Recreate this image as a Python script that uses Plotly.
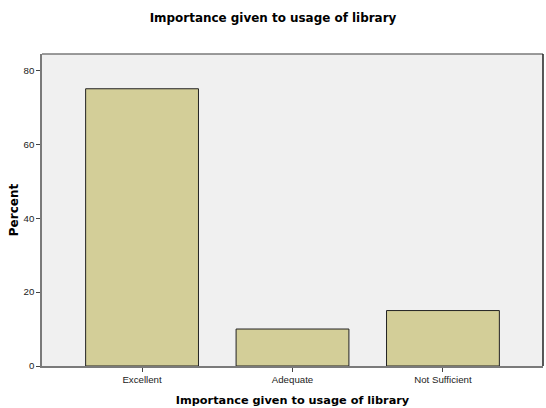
import plotly.graph_objects as go

categories = ["Excellent", "Adequate", "Not Sufficient"]
percent = [75, 10, 15]
y_ticks = [0, 20, 40, 60, 80]

TITLE_FONT = "DejaVu Sans, Verdana, sans-serif"

fig = go.Figure()
fig.add_trace(go.Bar(
    x=categories, y=percent, width=0.75,
    marker=dict(color="#d3ce98", line=dict(color="#222222", width=1)),
    hoverinfo="skip",
))

fig.update_layout(
    width=546, height=408,
    margin=dict(l=42, r=3, t=54, b=42, autoexpand=False),
    paper_bgcolor="white", plot_bgcolor="#f0f0f0",
    font=dict(family="Liberation Sans, Arial, sans-serif", color="#222222"),
    showlegend=False,
    title=dict(text="<b>Importance given to usage of library</b>", x=0.5, xanchor="center",
               y=1 - 18/408, yanchor="middle", font=dict(family=TITLE_FONT, size=11.95, color="#000000")),
    bargap=0.25,
)
fig.update_xaxes(
    range=[-0.665, 2.665], showgrid=False, zeroline=False,
    showline=True, linecolor="#7a7a7a", linewidth=1.5,
    ticks="outside", ticklen=4, tickcolor="#444444",
    tickfont=dict(size=9.7, color="#222222"),
    title=dict(text="<b>Importance given to usage of library</b>",
               font=dict(family=TITLE_FONT, size=11.3, color="#000000"), standoff=12),
    automargin=False,
)
fig.update_yaxes(
    range=[0, 84.4], tickvals=y_ticks, showgrid=False, zeroline=False,
    showline=True, linecolor="#7a7a7a", linewidth=1.5,
    ticks="outside", ticklen=4, tickcolor="#444444",
    tickfont=dict(size=9.7, color="#222222"),
    title=dict(text="<b>Percent</b>", font=dict(family=TITLE_FONT, size=12, color="#000000"), standoff=2),
    automargin=False,
)
fig.add_shape(type="line", xref="paper", yref="paper", x0=0, x1=1, y0=1, y1=1,
              line=dict(color="#7a7a7a", width=1.5))
fig.add_shape(type="line", xref="paper", yref="paper", x0=1, x1=1, y0=0, y1=1,
              line=dict(color="#222222", width=1.5))

fig.write_html("out.html", config={"displayModeBar": False},
               post_script="document.body.style.margin='0';document.body.style.overflow='hidden';")
